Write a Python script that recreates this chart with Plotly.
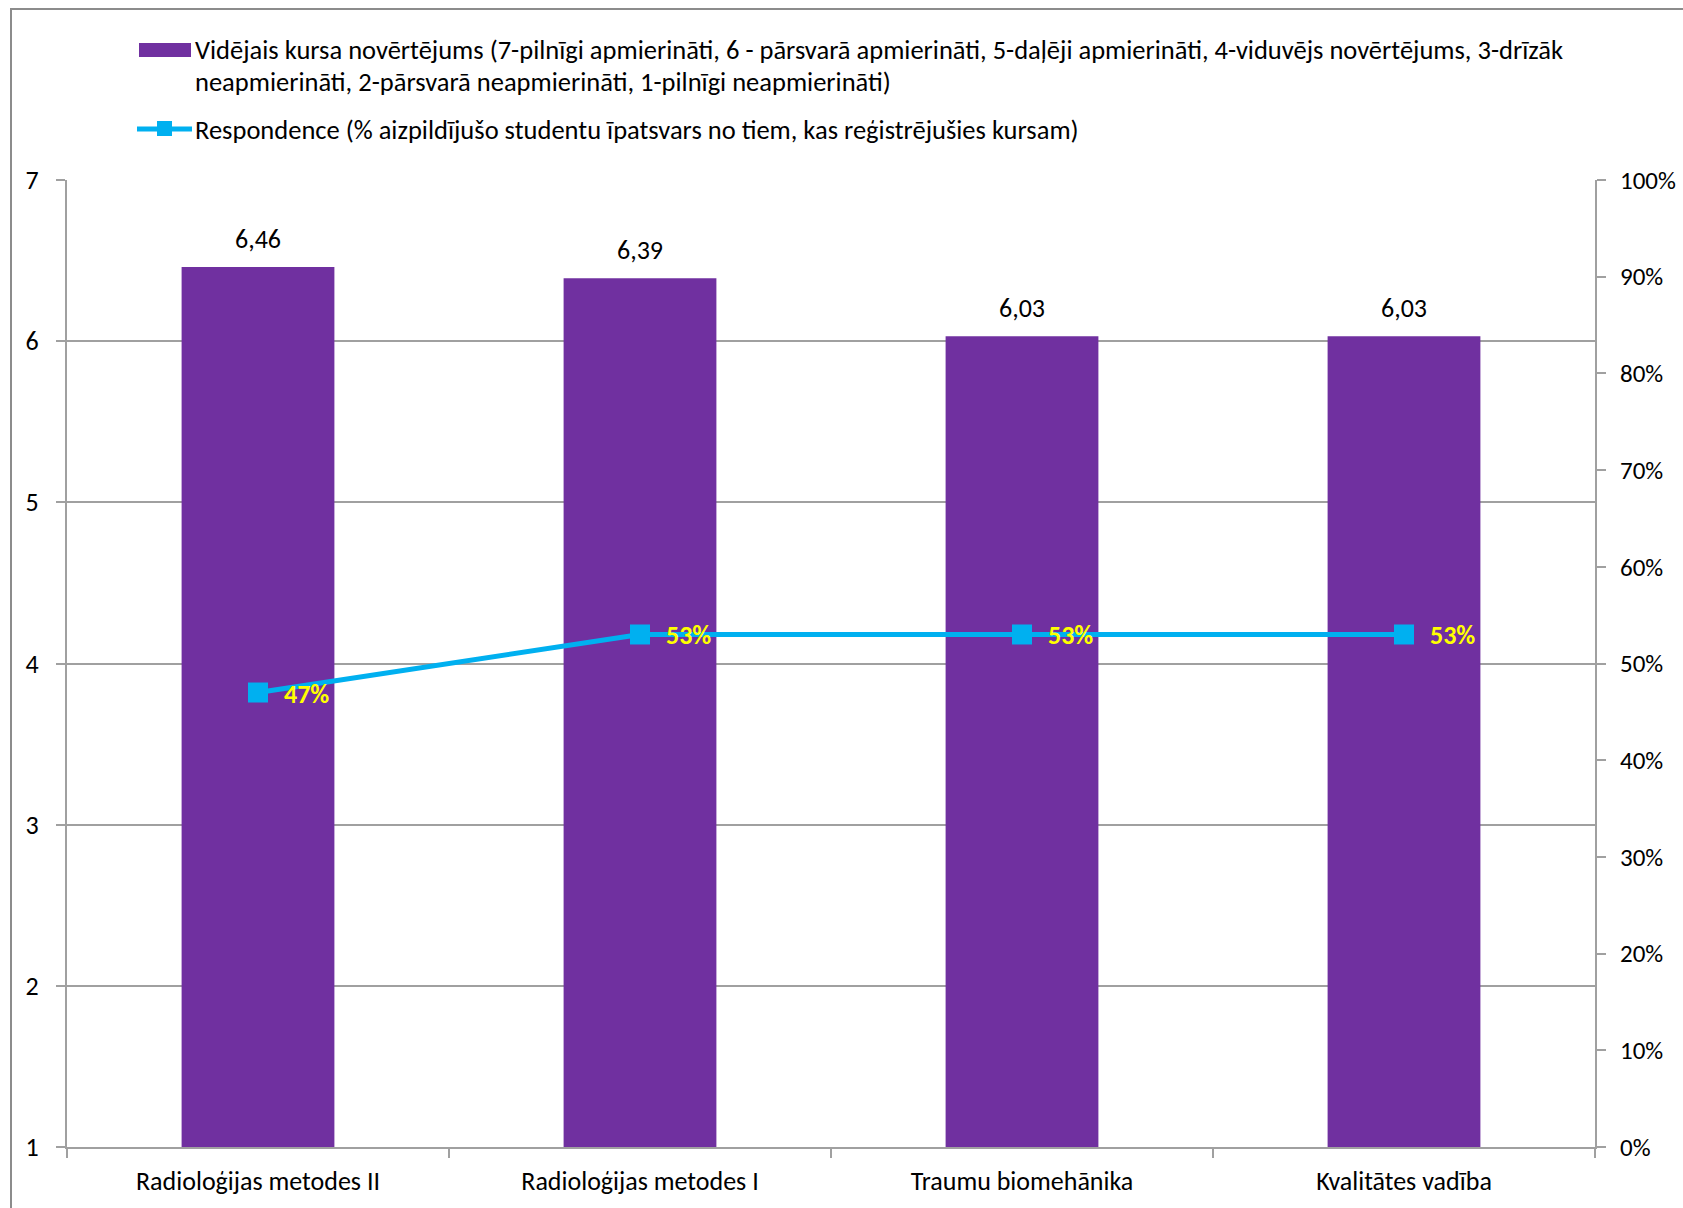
import plotly.graph_objects as go

# Course evaluation data
courses = ["Radioloģijas metodes II", "Radioloģijas metodes I", "Traumu biomehānika", "Kvalitātes vadība"]
avg_rating = [6.46, 6.39, 6.03, 6.03]
response_rate = [0.47, 0.53, 0.53, 0.53]

bar_name = ("Vidējais kursa novērtējums (7-pilnīgi apmierināti, 6 - pārsvarā apmierināti, "
            "5-daļēji apmierināti, 4-viduvējs novērtējums, 3-drīzāk")
bar_name_2 = "neapmierināti, 2-pārsvarā neapmierināti, 1-pilnīgi neapmierināti)"
line_name = "Respondence (% aizpildījušo studentu īpatsvars no tiem, kas reģistrējušies kursam)"

W, H = 1683, 1208
L, R, T, B = 67, 88, 180, 61
PW, PH = W - L - R, H - T - B

PURPLE = "#7030A0"
CYAN = "#00B0F0"
GRID = "#A0A0A0"
FONT = "Calibri, Carlito, Lato, sans-serif"


def px_x(px):
    return (px - L) / PW


def px_y(py):
    return (H - B - py) / PH


fig = go.Figure()

fig.add_trace(go.Bar(
    x=courses, y=avg_rating, name=bar_name, marker=dict(color=PURPLE, line=dict(width=0)),
    yaxis="y", showlegend=False, hoverinfo="x+y",
))

fig.add_trace(go.Scatter(
    x=courses, y=response_rate, name=line_name, mode="lines+markers", yaxis="y2",
    line=dict(color=CYAN, width=5),
    marker=dict(symbol="square", size=20, color=CYAN, line=dict(width=0)),
    showlegend=False,
))

annotations = []
# value labels above bars (decimal comma)
for c, v in zip(courses, avg_rating):
    annotations.append(dict(
        x=c, y=v, xref="x", yref="y", text=f"{v:.2f}".replace(".", ","),
        showarrow=False, yanchor="bottom", yshift=10,
        font=dict(family=FONT, size=26, color="#000000"),
    ))
# response rate labels next to markers
for c, v in zip(courses, response_rate):
    annotations.append(dict(
        x=c, y=v, xref="x", yref="y2", text=f"<b>{round(v * 100)}%</b>",
        showarrow=False, xanchor="left", yanchor="middle", xshift=24, yshift=-1,
        font=dict(family=FONT, size=26, color="#FFFF00"),
    ))

# legend block
legend_font = dict(family=FONT, size=26.5, color="#000000")
for txt, cy in [(bar_name, 50), (bar_name_2, 82), (line_name, 130)]:
    annotations.append(dict(
        x=px_x(193), y=px_y(cy), xref="paper", yref="paper", text=txt,
        showarrow=False, xanchor="left", yanchor="middle", align="left",
        font=legend_font,
    ))

shapes = [
    # outer chart border
    dict(type="rect", xref="paper", yref="paper",
         x0=px_x(11), x1=px_x(1720), y0=px_y(1240), y1=px_y(9),
         line=dict(color="#8C8C8C", width=2), fillcolor="rgba(0,0,0,0)", layer="below"),
    # legend swatch: bars
    dict(type="rect", xref="paper", yref="paper",
         x0=px_x(139), x1=px_x(191), y0=px_y(57), y1=px_y(43),
         line=dict(width=0), fillcolor=PURPLE),
    # legend swatch: line with marker
    dict(type="line", xref="paper", yref="paper",
         x0=px_x(137), x1=px_x(192), y0=px_y(129), y1=px_y(129),
         line=dict(color=CYAN, width=5)),
    dict(type="rect", xref="paper", yref="paper",
         x0=px_x(157), x1=px_x(172), y0=px_y(136), y1=px_y(121),
         line=dict(width=0), fillcolor=CYAN),
]

tick_font = dict(family=FONT, size=26, color="#000000")

fig.update_layout(
    width=W, height=H, autosize=False,
    margin=dict(l=L, r=R, t=T, b=B, pad=0, autoexpand=False),
    paper_bgcolor="white", plot_bgcolor="white",
    bargap=0.6,
    font=dict(family=FONT, size=26, color="#000000"),
    annotations=annotations,
    shapes=shapes,
    xaxis=dict(
        type="category", showline=True, linecolor=GRID, linewidth=2,
        ticks="outside", ticklen=9, tickwidth=2, tickcolor=GRID, tickson="boundaries",
        showgrid=False, tickfont=tick_font, ticklabelstandoff=10, automargin=False,
    ),
    yaxis=dict(
        range=[1, 7], dtick=1, tick0=1, showgrid=True, gridcolor=GRID, gridwidth=2,
        showline=True, linecolor=GRID, linewidth=2, zeroline=False,
        ticks="outside", ticklen=9, tickwidth=2, tickcolor=GRID,
        tickfont=tick_font, ticklabelstandoff=12, automargin=False,
    ),
    yaxis2=dict(
        range=[0, 1], dtick=0.1, tick0=0, tickformat=".0%", overlaying="y", side="right",
        showgrid=False, zeroline=False, showline=True, linecolor=GRID, linewidth=2,
        ticks="outside", ticklen=9, tickwidth=2, tickcolor=GRID,
        tickfont=dict(family=FONT, size=25, color="#000000"), ticklabelstandoff=9,
        automargin=False,
    ),
)

fig.write_html("out.html")
